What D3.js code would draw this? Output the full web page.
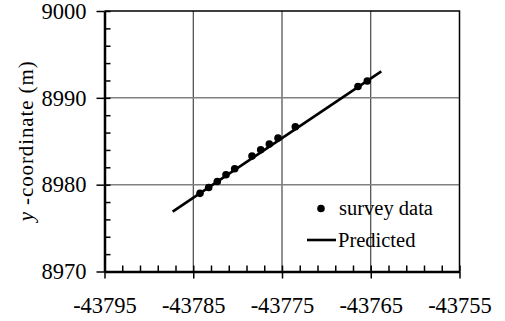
<!DOCTYPE html>
<html>
<head>
<meta charset="utf-8">
<script src="https://cdn.jsdelivr.net/npm/d3@7"></script>
<style>
  body { margin: 0; background: #fff; }
  svg, svg text { font-family: "Liberation Serif", "Times New Roman", Tinos, "DejaVu Serif", serif; }
</style>
</head>
<body>
<div id="chart"></div>
<script>
// survey points
const surveyX = [-43784.24, -43783.26, -43782.29, -43781.31, -43780.33, -43778.38, -43777.40, -43776.43, -43775.45, -43773.50, -43766.44, -43765.39];
const surveyY = [8979.0, 8979.68, 8980.37, 8981.14, 8981.83, 8983.29, 8984.02, 8984.68, 8985.37, 8986.67, 8991.30, 8991.93];
// predicted line ends
const predX = [-43787.32, -43763.81];
const predY = [8976.9, 8993.05];
const xTicks = [-43795, -43785, -43775, -43765, -43755];
const yTicks = [8970, 8980, 8990, 9000];

let width = 505, height = 321;
let pLeft = 104.5, pRight = 459.5, pTop = 11, pBottom = 271.5;
let serif = '"Liberation Serif", "Times New Roman", serif';

let svg = d3.select('#chart').append('svg')
  .attr('width', width)
  .attr('height', height)
  .attr('font-family', serif);

let x = d3.scaleLinear().domain([-43795, -43755]).range([pLeft, pRight]);
let y = d3.scaleLinear().domain([8970, 9000]).range([pBottom, pTop]);

// grid
svg.append('g').selectAll('line')
  .data(xTicks.slice(1, -1)).enter()
  .append('line')
  .attr('x1', d => x(d)).attr('x2', d => x(d))
  .attr('y1', pTop).attr('y2', pBottom)
  .attr('stroke', '#222').attr('stroke-width', 1);
svg.append('g').selectAll('line')
  .data(yTicks.slice(1, -1)).enter()
  .append('line')
  .attr('x1', pLeft).attr('x2', pRight)
  .attr('y1', d => y(d)).attr('y2', d => y(d))
  .attr('stroke', '#808080').attr('stroke-width', 1.5);

// top & right border
svg.append('path')
  .attr('d', 'M' + pLeft + ',' + pTop + 'H' + pRight + 'V' + pBottom)
  .attr('fill', 'none').attr('stroke', '#000').attr('stroke-width', 1.5);

// minor ticks inside
let minorX = d3.range(-43795, -43754, 2);
let minorY = d3.range(8970, 9000.5, 2);
svg.append('g')
  .attr('transform', 'translate(0,' + pBottom + ')')
  .call(d3.axisBottom(x).tickValues(minorX).tickSize(-6).tickFormat(''))
  .call(g => g.select('.domain').remove())
  .selectAll('line').attr('stroke-width', 1.5);
svg.append('g')
  .attr('transform', 'translate(' + pLeft + ',0)')
  .call(d3.axisLeft(y).tickValues(minorY).tickSize(-6).tickFormat(''))
  .call(g => g.select('.domain').remove())
  .selectAll('line').attr('stroke-width', 1.5);

// major axes
let xAxis = svg.append('g')
  .attr('transform', 'translate(0,' + pBottom + ')')
  .call(d3.axisBottom(x).tickValues(xTicks).tickSize(7).tickSizeOuter(0).tickPadding(18.5).tickFormat(d => String(d)));
xAxis.attr('font-family', serif).attr('font-size', 22.5);
xAxis.select('.domain').attr('stroke-width', 2.5);
xAxis.selectAll('line').attr('stroke-width', 1.5);
xAxis.selectAll('text').attr('fill', '#000');

let yAxis = svg.append('g')
  .attr('transform', 'translate(' + pLeft + ',0)')
  .call(d3.axisLeft(y).tickValues(yTicks).tickSize(8).tickSizeOuter(0).tickPadding(10).tickFormat(d => String(d)));
yAxis.attr('font-family', serif).attr('font-size', 22.5);
yAxis.select('.domain').attr('stroke-width', 2.5);
yAxis.selectAll('line').attr('stroke-width', 1.5);
yAxis.selectAll('text').attr('fill', '#000');

// y title
let title = svg.append('text')
  .attr('transform', 'translate(33,' + ((pTop + pBottom) / 2) + ') rotate(-90)')
  .attr('text-anchor', 'middle')
  .attr('font-size', 21)
  .attr('textLength', 160)
  .attr('lengthAdjust', 'spacing');
title.append('tspan').attr('font-style', 'italic').text('y');
title.append('tspan').text(' -coordinate (m)');

// predicted line
let line = d3.line().x(d => x(d[0])).y(d => y(d[1]));
svg.append('path')
  .datum(d3.zip(predX, predY))
  .attr('d', line)
  .attr('fill', 'none').attr('stroke', '#000').attr('stroke-width', 2.6);

// survey points
svg.append('g').selectAll('circle')
  .data(d3.zip(surveyX, surveyY)).enter()
  .append('circle')
  .attr('cx', d => x(d[0])).attr('cy', d => y(d[1]))
  .attr('r', 3.8).attr('fill', '#000');

// legend
let lg = svg.append('g').attr('font-size', 20.5);
lg.append('circle').attr('cx', 321).attr('cy', 208.5).attr('r', 3.8).attr('fill', '#000');
lg.append('text').attr('x', 339).attr('y', 215).text('survey data');
lg.append('line').attr('x1', 307).attr('x2', 336).attr('y1', 240).attr('y2', 240)
  .attr('stroke', '#000').attr('stroke-width', 2.6);
lg.append('text').attr('x', 338).attr('y', 247).text('Predicted');
</script>
</body>
</html>
